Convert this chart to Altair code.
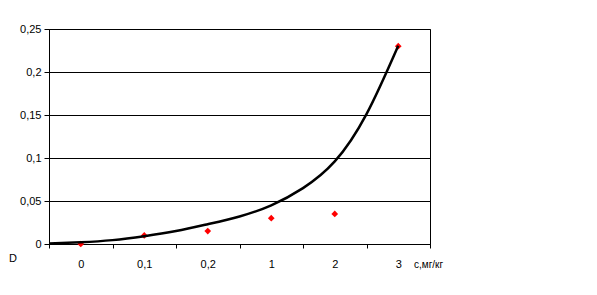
import json
import altair as alt
import pandas as pd

categories = ["0", "0,1", "0,2", "1", "2", "3"]
measured = [0.0, 0.01, 0.015, 0.03, 0.035, 0.23]

curve_pos = [-0.5, 0, 0.5, 1, 1.5, 2, 2.5, 3, 3.5, 4, 4.5, 5]
curve_val = [0.0005, 0.002, 0.0045, 0.009, 0.015, 0.023, 0.032, 0.045,
             0.065, 0.096, 0.151, 0.2305]

y_ticks = [0, 0.05, 0.1, 0.15, 0.2, 0.25]
axis_titles = ["D", "с,мг/кг"]

FONT = "Liberation Sans"

pts = pd.DataFrame({"pos": list(range(len(categories))), "val": measured})
crv = pd.DataFrame({"u": curve_pos, "v": curve_val})
n = len(categories)
xs = alt.Scale(domain=[-0.5, n - 0.5], nice=False, zero=False)
ys = alt.Scale(domain=[0, 0.25], nice=False)

label_expr = json.dumps(categories) + "[datum.value]"

yaxis = alt.Axis(values=y_ticks, labelExpr="replace(format(datum.value, ''), '.', ',')",
                 tickSize=5, tickColor="black", labelPadding=3, labelFontSize=11,
                 labelColor="black", labelFont=FONT, domainColor="black",
                 grid=True, gridColor="black", gridWidth=1, title=None)

points = alt.Chart(pts).mark_point(shape="diamond", filled=True, color="red",
                                   size=45, opacity=1).encode(
    x=alt.X("pos:Q", scale=xs,
            axis=alt.Axis(values=list(range(n)), labelExpr=label_expr, tickSize=0,
                          domainColor="black", labelPadding=14, labelFontSize=11,
                          labelColor="black", labelFont=FONT, grid=False,
                          title=None, orient="bottom")),
    y=alt.Y("val:Q", scale=ys, axis=yaxis),
)

curve = alt.Chart(crv).mark_line(color="black", strokeWidth=2.5,
                                 interpolate="natural").encode(
    x=alt.X("u:Q", scale=xs,
            axis=alt.Axis(values=[i - 0.5 for i in range(n + 1)], labels=False,
                          tickSize=4, tickColor="black", domain=False, grid=False,
                          title=None, orient="bottom")),
    y=alt.Y("v:Q", scale=ys),
)

t_d = alt.Chart(pd.DataFrame({"t": [axis_titles[0]]})).mark_text(
    font=FONT, fontSize=11, color="black", align="center", baseline="middle"
).encode(text="t:N", x=alt.value(-36), y=alt.value(229.5))

t_c = alt.Chart(pd.DataFrame({"t": [axis_titles[1]]})).mark_text(
    font=FONT, fontSize=10, color="black", align="left", baseline="middle"
).encode(text="t:N", x=alt.value(365), y=alt.value(236))

chart = alt.layer(points, curve, t_d, t_c).resolve_axis(x="independent").properties(
    width=381, height=215,
    autosize=alt.AutoSizeParams(type="none"),
    padding={"left": 41, "top": 21, "right": 100, "bottom": 40},
).configure_view(stroke="black", strokeWidth=1)

chart.save("out.html", embed_options={"renderer": "svg", "actions": False})
